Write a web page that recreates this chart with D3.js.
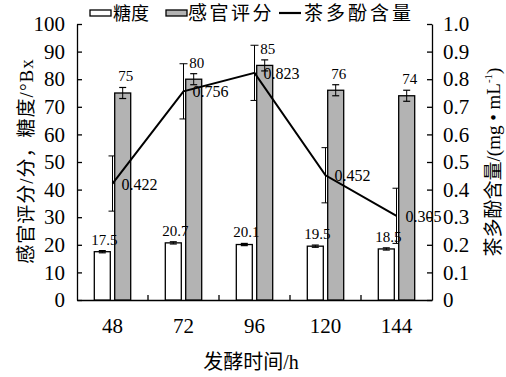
<!DOCTYPE html>
<html>
<head>
<meta charset="utf-8">
<script src="https://cdn.jsdelivr.net/npm/d3@7"></script>
<style>
  body { margin: 0; background: #fff; }
  svg text { font-family: "Liberation Serif", "Times New Roman", Tinos, "DejaVu Serif", serif; fill: #000; }
  svg text.cjk { font-family: "Liberation Serif", "Times New Roman", "Noto Sans CJK SC", serif; }
</style>
</head>
<body>
<div id="chart"></div>
<script>
// data
const times = ["48", "72", "96", "120", "144"];
const sugar = [17.5, 20.7, 20.1, 19.5, 18.5];
const sugarErr = [0.4, 0.4, 0.4, 0.4, 0.4];
const sensory = [75, 80, 85, 76, 74];
const sensoryErr = [2, 2, 2, 2, 2];
const polyphenol = [0.422, 0.756, 0.823, 0.452, 0.305];
const polyErr = [0.1, 0.1, 0.1, 0.1, 0.1];
const leftTicks = [0, 10, 20, 30, 40, 50, 60, 70, 80, 90, 100];
const rightTicks = [0, 0.1, 0.2, 0.3, 0.4, 0.5, 0.6, 0.7, 0.8, 0.9, 1.0];

var width = 506, height = 377;
var margin = { top: 24, right: 74, bottom: 77, left: 77 };
var serif = "'Liberation Serif', 'Times New Roman', Tinos, serif";

var svg = d3.select("#chart").append("svg")
  .attr("width", width).attr("height", height);

var x = d3.scaleBand().domain(times).range([margin.left, width - margin.right]);
var yL = d3.scaleLinear().domain([0, 100]).range([height - margin.bottom, margin.top]);
var yR = d3.scaleLinear().domain([0, 1]).range([height - margin.bottom, margin.top]);
var y0 = height - margin.bottom;
var barW = 16, gap = 2.2;
var cx = d => x(d) + x.bandwidth() / 2;

// axes
var axL = svg.append("g").attr("transform", "translate(" + margin.left + ",0)")
  .call(d3.axisLeft(yL).tickValues(leftTicks).tickSizeInner(-5).tickSizeOuter(0).tickPadding(12));
var axR = svg.append("g").attr("transform", "translate(" + (width - margin.right) + ",0)")
  .call(d3.axisRight(yR).tickValues(rightTicks).tickSizeInner(-5).tickSizeOuter(0).tickPadding(11)
    .tickFormat(d => d === 0 ? "0" : d3.format(".1f")(d)));
var axB = svg.append("g").attr("transform", "translate(0," + y0 + ")")
  .call(d3.axisBottom(x).tickSize(0).tickPadding(18));
axB.selectAll(".tick text").attr("dy", "0.71em");
// band boundary ticks pointing up
axB.selectAll(".bnd").data(times.slice(1)).enter().append("line")
  .attr("x1", d => x(d)).attr("x2", d => x(d)).attr("y1", 0).attr("y2", -5)
  .attr("stroke", "#000").attr("stroke-width", 1.3);
[axL, axR, axB].forEach(a => {
  a.attr("font-family", serif);
  a.selectAll("path, line").attr("stroke", "#000").attr("stroke-width", 1.3);
  a.selectAll("text").attr("font-size", 21).attr("fill", "#000").style("font-family", serif);
});

// polyphenol error bars (drawn under bars)
var pe = svg.append("g");
polyphenol.forEach((v, i) => {
  var t = times[i];
  pe.append("line").attr("x1", cx(t)).attr("x2", cx(t))
    .attr("y1", yR(v - polyErr[i])).attr("y2", yR(v + polyErr[i]))
    .attr("stroke", "#000").attr("stroke-width", 1);
  [v - polyErr[i], v + polyErr[i]].forEach(e => {
    pe.append("line").attr("x1", cx(t) - 4).attr("x2", cx(t) + 4)
      .attr("y1", yR(e)).attr("y2", yR(e)).attr("stroke", "#000").attr("stroke-width", 1);
  });
});

// bars
var labels = [];
function drawBars(vals, errs, fill, offset, lblShift) {
  var g = svg.append("g");
  g.selectAll("rect").data(vals).enter().append("rect")
    .attr("x", (d, i) => cx(times[i]) + offset)
    .attr("y", d => yL(d))
    .attr("width", barW)
    .attr("height", d => y0 - yL(d))
    .attr("fill", fill).attr("stroke", "#000").attr("stroke-width", 1.3);
  vals.forEach((v, i) => {
    var bx = cx(times[i]) + offset + barW / 2;
    g.append("line").attr("x1", bx).attr("x2", bx)
      .attr("y1", yL(v - errs[i])).attr("y2", yL(v + errs[i]))
      .attr("stroke", "#000").attr("stroke-width", 1);
    [v - errs[i], v + errs[i]].forEach(e => {
      g.append("line").attr("x1", bx - 3.5).attr("x2", bx + 3.5)
        .attr("y1", yL(e)).attr("y2", yL(e)).attr("stroke", "#000").attr("stroke-width", 1.2);
    });
    labels.push({ x: bx + lblShift, y: yL(v + errs[i]) - 6, t: v });
  });
}
drawBars(sugar, sugarErr, "#fff", -gap - barW, 2);
drawBars(sensory, sensoryErr, "#b3b3b3", gap, 3);

svg.append("g").selectAll("text").data(labels).enter().append("text")
  .attr("x", d => d.x).attr("y", d => d.y)
  .attr("text-anchor", "middle").attr("font-size", 15).text(d => d.t);

// polyphenol line
var line = d3.line().x((d, i) => cx(times[i])).y(d => yR(d));
svg.append("path").datum(polyphenol).attr("d", line)
  .attr("fill", "none").attr("stroke", "#000").attr("stroke-width", 2);
svg.append("g").selectAll("text").data(polyphenol).enter().append("text")
  .attr("x", (d, i) => cx(times[i]) + 9).attr("y", d => yR(d) + 6)
  .attr("font-size", 16).text(d => d);

// legend
var lg = svg.append("g");
lg.append("rect").attr("x", 90).attr("y", 10).attr("width", 21).attr("height", 6)
  .attr("fill", "#fff").attr("stroke", "#000").attr("stroke-width", 1.3);
lg.append("text").attr("class", "cjk").attr("x", 113).attr("y", 20).attr("font-size", 18)
  .text("糖度");
lg.append("rect").attr("x", 166).attr("y", 10).attr("width", 21).attr("height", 6)
  .attr("fill", "#b3b3b3").attr("stroke", "#000").attr("stroke-width", 1.3);
lg.append("text").attr("class", "cjk").attr("x", 188).attr("y", 20).attr("font-size", 19)
  .attr("letter-spacing", 2.5).text("感官评分");
lg.append("line").attr("x1", 279).attr("x2", 301).attr("y1", 13).attr("y2", 13)
  .attr("stroke", "#000").attr("stroke-width", 2.2);
lg.append("text").attr("class", "cjk").attr("x", 304).attr("y", 20).attr("font-size", 19)
  .attr("letter-spacing", 3).text("茶多酚含量");

// axis titles
svg.append("text").attr("class", "cjk").attr("transform", "translate(33,161) rotate(-90)")
  .attr("text-anchor", "middle").attr("font-size", 19).attr("letter-spacing", 1)
  .text("感官评分/分，糖度/°Bx");
var rt = svg.append("text").attr("class", "cjk").attr("transform", "translate(500,162) rotate(-90)")
  .attr("text-anchor", "middle").attr("font-size", 19);
rt.append("tspan").text("茶多酚含量/(mg • mL");
rt.append("tspan").attr("font-size", 11).attr("dy", -8).text("-1");
rt.append("tspan").attr("dy", 8).text(")");
svg.append("text").attr("class", "cjk").attr("x", 251).attr("y", 369).attr("text-anchor", "middle")
  .attr("font-size", 20).text("发酵时间/h");
</script>
</body>
</html>
